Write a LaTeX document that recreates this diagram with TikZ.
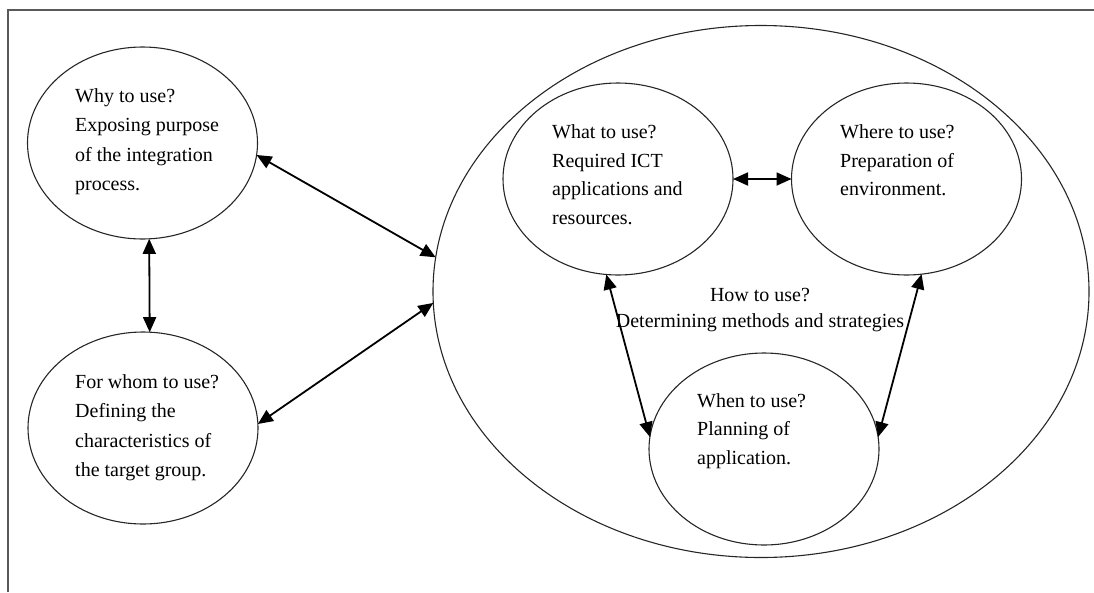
\documentclass[tikz,border=0pt]{standalone}
\usepackage{fontspec}
\setmainfont{Liberation Serif}
\usetikzlibrary{shapes.geometric,arrows.meta}
\begin{document}
\begin{tikzpicture}%
[x=1pt,y=-1pt,%
bubble/.style={draw=black!85, line width=1.1pt, shape=ellipse, inner sep=0pt, outer sep=0pt, minimum width=230pt, minimum height=192pt},%
txt/.style={anchor=north west, inner sep=0pt, align=left, font=\fontsize{20}{29.5}\selectfont},%
link/.style={{Triangle[length=15pt,width=13pt]}-{Triangle[length=15pt,width=13pt]}, line width=1.8pt}]

\useasboundingbox (0,0) rectangle (1094,592);
\draw[line width=1.6pt, black!65] (8,592) -- (8,10) -- (1094,10);

\node[bubble] (why) at (142.5,143) {};
\node[bubble] (whom) at (143,428) {};
\node[bubble, minimum width=656pt, minimum height=532pt] (how) at (761,291.5) {};
\node[bubble] (what) at (618,179) {};
\node[bubble] (where) at (906.5,179) {};
\node[bubble] (when) at (764,449) {};

\node[txt] (why-txt) at (75,88) {Why to use?\\Exposing purpose\\of the integration\\process.};
\node[txt] (whom-txt) at (75,374) {For whom to use?\\Defining the\\characteristics of\\the target group.};
\node[txt, font=\fontsize{20}{28.5}\selectfont] (what-txt) at (552,124.6) {What to use?\\Required ICT\\applications and\\resources.};
\node[txt, font=\fontsize{20}{28.5}\selectfont] (where-txt) at (840,124.5) {Where to use?\\Preparation of\\environment.};
\node[txt, font=\fontsize{20}{28.5}\selectfont] (when-txt) at (697,393) {When to use?\\Planning of\\application.};
\node[txt, anchor=north, align=center, font=\fontsize{20}{26.5}\selectfont] (how-txt) at (760,288) {How to use?\\Determining methods and strategies};

\draw[link] (why.274) -- (whom.86);
\draw[link] (why.-6) -- (how.174.8);
\draw[link] (whom.2.5) -- (how.182.6);
\draw[link] (what.east) -- (where.west);
\draw[link] (what.263.6) -- (when.174);
\draw[link] (where.279) -- (when.6);
\end{tikzpicture}
\end{document}
